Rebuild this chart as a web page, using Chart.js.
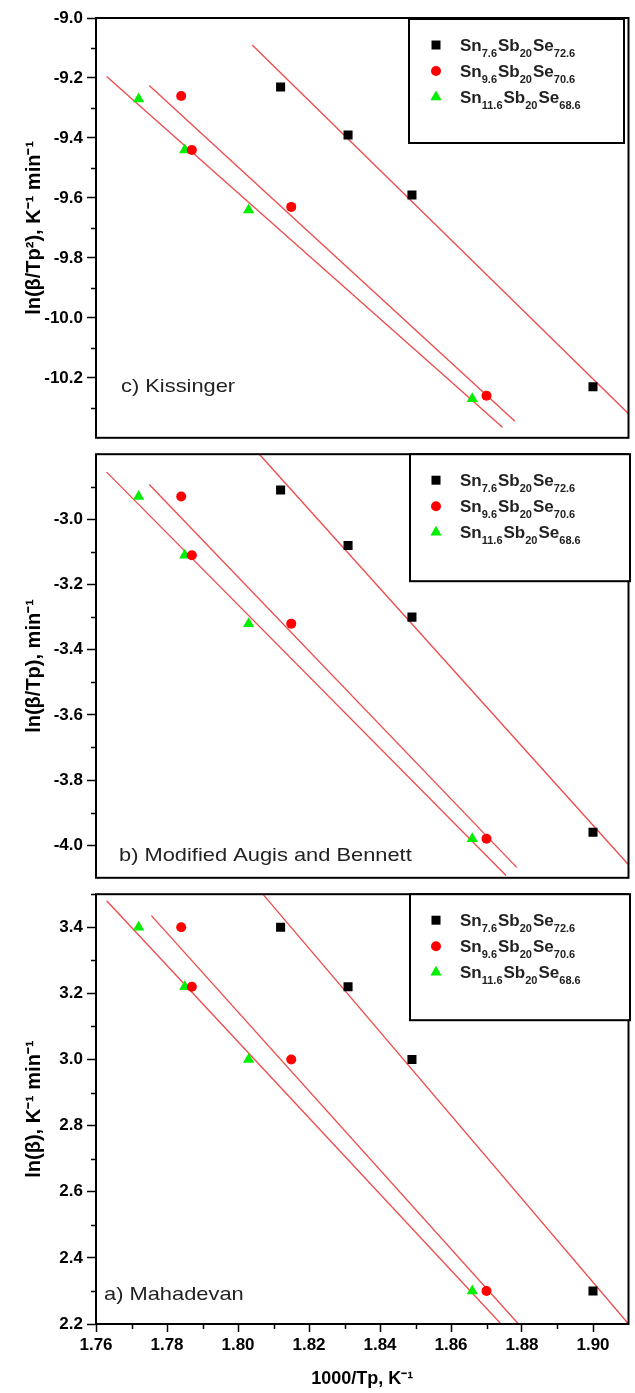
<!DOCTYPE html>
<html>
<head>
<meta charset="utf-8">
<title>Kissinger / Augis-Bennett / Mahadevan plots</title>
<script src="https://cdn.jsdelivr.net/npm/chart.js@4.4.1/dist/chart.umd.min.js"></script>
<style>
  html, body { margin: 0; padding: 0; background: #fff; }
  #wrap { position: relative; width: 635px; height: 1393px; overflow: hidden; }
  canvas { position: absolute; left: 0; }
</style>
</head>
<body>
<div id="wrap">
  <canvas id="kissinger" width="635" height="452" style="top:0px"></canvas>
  <canvas id="augis" width="635" height="452" style="top:440px"></canvas>
  <canvas id="mahadevan" width="635" height="513" style="top:880px"></canvas>
</div>
<script>
// shared x axis: 1000/Tp
const xMin = 1.76;
const xMax = 1.91;
const xTicks = [1.76, 1.78, 1.80, 1.82, 1.84, 1.86, 1.88, 1.90];
const xMinorTicks = [1.77, 1.79, 1.81, 1.83, 1.85, 1.87, 1.89];

// legend text, alternating normal / subscript parts
const legendParts = [
  ['Sn', '7.6', 'Sb', '20', 'Se', '72.6'],
  ['Sn', '9.6', 'Sb', '20', 'Se', '70.6'],
  ['Sn', '11.6', 'Sb', '20', 'Se', '68.6']
];

// 1000/Tp of each sample (heating rates 30, 25, 20, 10 K/min)
const tpSn76 = [1.812, 1.831, 1.849, 1.900];
const tpSn96 = [1.784, 1.787, 1.815, 1.870];
const tpSn116 = [1.772, 1.785, 1.803, 1.866];

// c) Kissinger
const kissSn76 = [-9.23, -9.39, -9.59, -10.23];
const kissSn96 = [-9.26, -9.44, -9.63, -10.26];
const kissSn116 = [-9.27, -9.44, -9.64, -10.27];
const kissFitX = [[1.804, 1.910], [1.775, 1.878], [1.763, 1.8745]];
const kissFitY = [[-9.09, -10.32], [-9.225, -10.345], [-9.195, -10.365]];
const kissTicks = [-9.0, -9.2, -9.4, -9.6, -9.8, -10.0, -10.2];
const kissMinor = [-9.1, -9.3, -9.5, -9.7, -9.9, -10.1, -10.3];

// b) Modified Augis and Bennett
const augisSn76 = [-2.91, -3.08, -3.30, -3.96];
const augisSn96 = [-2.93, -3.11, -3.32, -3.98];
const augisSn116 = [-2.93, -3.11, -3.32, -3.98];
const augisFitX = [[1.806, 1.910], [1.775, 1.8785], [1.763, 1.8755]];
const augisFitY = [[-2.80, -4.06], [-2.893, -4.068], [-2.855, -4.093]];
const augisTicks = [-3.0, -3.2, -3.4, -3.6, -3.8, -4.0];
const augisMinor = [-2.9, -3.1, -3.3, -3.5, -3.7, -3.9];

// a) Mahadevan
const mahaSn76 = [3.40, 3.22, 3.00, 2.30];
const mahaSn96 = [3.40, 3.22, 3.00, 2.30];
const mahaSn116 = [3.40, 3.22, 3.00, 2.30];
const mahaFitX = [[1.807, 1.910], [1.7756, 1.879], [1.763, 1.8741]];
const mahaFitY = [[3.50, 2.20], [3.435, 2.20], [3.48, 2.20]];
const mahaTicks = [2.2, 2.4, 2.6, 2.8, 3.0, 3.2, 3.4];
const mahaMinor = [2.3, 2.5, 2.7, 2.9, 3.1, 3.3, 3.5];

const fontFamily = "'Liberation Sans', Arial, Helvetica, sans-serif";
const seriesColors = ['#000000', '#ff0000', '#00ee00'];
const seriesShapes = ['rect', 'circle', 'triangle'];
const seriesRadius = [6.4, 5, 6.5];
const fitColor = '#f04848';
const tpX = [tpSn76, tpSn96, tpSn116];

const drawMarker = (ctx, shape, x, y, color) => {
  ctx.fillStyle = color;
  ctx.beginPath();
  if (shape === 'rect') {
    ctx.rect(x - 4.5, y - 4.5, 9, 9);
  } else if (shape === 'circle') {
    ctx.arc(x, y, 5, 0, Math.PI * 2);
  } else {
    ctx.moveTo(x, y - 6.5);
    ctx.lineTo(x + 5.6, y + 3.25);
    ctx.lineTo(x - 5.6, y + 3.25);
    ctx.closePath();
  }
  ctx.fill();
};

// frame, minor ticks, legend box and panel caption
const decorPlugin = {
  id: 'decor',
  afterDraw(chart) {
    const { ctx, chartArea: a, scales } = chart;
    const p = chart.options.plugins.decor;
    ctx.save();

    ctx.strokeStyle = '#000';
    ctx.lineWidth = 1.5;
    ctx.beginPath();
    p.minor.forEach((v) => {
      const y = Math.round(scales.y.getPixelForValue(v)) + 0.5;
      ctx.moveTo(a.left - 5, y);
      ctx.lineTo(a.left, y);
    });
    if (p.showX) {
      xMinorTicks.forEach((v) => {
        const x = Math.round(scales.x.getPixelForValue(v)) + 0.5;
        ctx.moveTo(x, a.bottom);
        ctx.lineTo(x, a.bottom + 5);
      });
    }
    ctx.stroke();

    ctx.lineWidth = 2;
    ctx.strokeRect(a.left, a.top, a.right - a.left, a.bottom - a.top);

    // legend
    const box = p.legendBox;
    const top = a.top + box.dy;
    ctx.fillStyle = '#fff';
    ctx.fillRect(box.x1, top, box.x2 - box.x1, box.h);
    ctx.strokeRect(box.x1, top, box.x2 - box.x1, box.h);
    legendParts.forEach((parts, i) => {
      const cy = top + 26 + 26 * i;
      drawMarker(ctx, seriesShapes[i], 436, cy, seriesColors[i]);
      let x = 460;
      ctx.fillStyle = '#222';
      ctx.textBaseline = 'alphabetic';
      ctx.textAlign = 'left';
      parts.forEach((t, k) => {
        const sub = k % 2 === 1;
        ctx.font = `bold ${sub ? 11 : 17}px ${fontFamily}`;
        ctx.fillText(t, x, cy + (sub ? 12 : 6));
        x += ctx.measureText(t).width + (sub ? 1 : 0);
      });
    });

    // caption
    ctx.save();
    ctx.translate(p.caption.x, a.top + p.caption.dy);
    ctx.scale(1.15, 1);
    ctx.fillStyle = '#222';
    ctx.font = `19px ${fontFamily}`;
    ctx.textBaseline = 'middle';
    ctx.textAlign = 'left';
    ctx.fillText(p.caption.text, 0, 0);
    ctx.restore();

    ctx.restore();
  }
};

const makePanel = (id, p) => {
  const datasets = [];
  p.fitX.forEach((xs, i) => {
    datasets.push({
      data: xs.map((x, j) => ({ x, y: p.fitY[i][j] })),
      showLine: true,
      borderColor: fitColor,
      borderWidth: 1.3,
      pointRadius: 0,
      order: 1
    });
  });
  p.series.forEach((ys, i) => {
    datasets.push({
      data: tpX[i].map((x, j) => ({ x, y: ys[j] })),
      pointStyle: seriesShapes[i],
      pointRadius: seriesRadius[i],
      backgroundColor: seriesColors[i],
      borderColor: seriesColors[i],
      borderWidth: 0,
      order: 0
    });
  });

  return new Chart(document.getElementById(id), {
    type: 'scatter',
    data: { datasets },
    options: {
      responsive: false,
      animation: false,
      events: [],
      layout: { padding: { top: p.padTop, bottom: p.padBottom, left: 0, right: 3 } },
      plugins: {
        legend: { display: false },
        tooltip: { enabled: false },
        decor: {
          minor: p.minor,
          showX: p.showX,
          legendBox: p.legendBox,
          caption: p.caption
        }
      },
      scales: {
        x: {
          type: 'linear',
          min: xMin,
          max: xMax,
          display: p.showX,
          afterBuildTicks: (s) => { s.ticks = xTicks.map((v) => ({ value: v })); },
          afterFit: (s) => { s.height = p.showX ? 69 : 0; },
          border: { display: false },
          grid: { drawOnChartArea: false, tickLength: 8, tickColor: '#000', tickWidth: 1.5 },
          ticks: {
            color: '#000',
            padding: 3,
            maxRotation: 0,
            autoSkip: false,
            font: { family: fontFamily, size: 17, weight: 'bold' },
            callback: (v) => Number(v).toFixed(2)
          },
          title: {
            display: true,
            text: '1000/Tp, K\u207B\u00B9',
            color: '#000',
            font: { family: fontFamily, size: 18, weight: 'bold' },
            padding: { top: 0, bottom: 3 }
          }
        },
        y: {
          type: 'linear',
          min: p.yMin,
          max: p.yMax,
          afterBuildTicks: (s) => { s.ticks = p.ticks.map((v) => ({ value: v })); },
          afterFit: (s) => { s.width = 96; },
          border: { display: false },
          grid: { drawOnChartArea: false, tickLength: 9, tickColor: '#000', tickWidth: 1.5 },
          ticks: {
            color: '#000',
            padding: 4,
            font: { family: fontFamily, size: 17, weight: 'bold' },
            callback: (v) => Number(v).toFixed(1)
          },
          title: {
            display: true,
            text: p.yTitle,
            color: '#000',
            font: { family: fontFamily, size: 20, weight: 'bold' },
            padding: { top: 22, bottom: 0 }
          }
        }
      }
    },
    plugins: [decorPlugin]
  });
};

makePanel('kissinger', {
  series: [kissSn76, kissSn96, kissSn116],
  fitX: kissFitX, fitY: kissFitY,
  ticks: kissTicks, minor: kissMinor,
  yMin: -10.4, yMax: -9.0,
  yTitle: 'ln(\u03B2/Tp\u00B2), K\u207B\u00B9 min\u207B\u00B9',
  padTop: 18, padBottom: 6, showX: false,
  legendBox: { x1: 409, x2: 624, dy: 1, h: 124 },
  caption: { text: 'c) Kissinger', x: 121, dy: 369 }
});

makePanel('augis', {
  series: [augisSn76, augisSn96, augisSn116],
  fitX: augisFitX, fitY: augisFitY,
  ticks: augisTicks, minor: augisMinor,
  yMin: -4.1, yMax: -2.8,
  yTitle: 'ln(\u03B2/Tp), min\u207B\u00B9',
  padTop: 6, padBottom: 6, showX: false,
  legendBox: { x1: 410, x2: 630, dy: 0, h: 127 },
  caption: { text: 'b) Modified Augis and Bennett', x: 119, dy: 402 }
});

makePanel('mahadevan', {
  series: [mahaSn76, mahaSn96, mahaSn116],
  fitX: mahaFitX, fitY: mahaFitY,
  ticks: mahaTicks, minor: mahaMinor,
  yMin: 2.2, yMax: 3.5,
  yTitle: 'ln(\u03B2), K\u207B\u00B9 min\u207B\u00B9',
  padTop: 6, padBottom: 0, showX: true,
  legendBox: { x1: 410, x2: 630, dy: 0, h: 126 },
  caption: { text: 'a) Mahadevan', x: 104, dy: 401 }
});
</script>
</body>
</html>
